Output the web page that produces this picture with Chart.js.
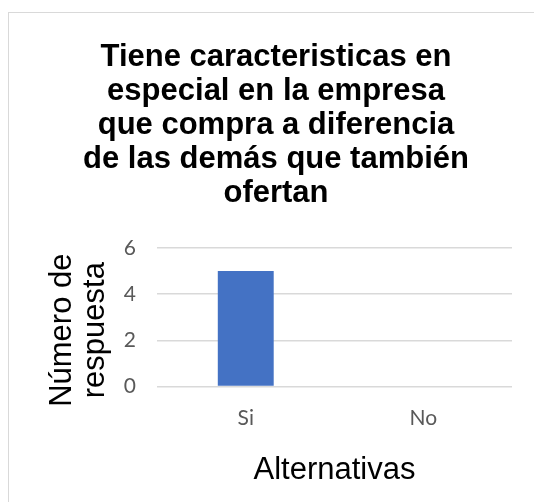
<!DOCTYPE html>
<html>
<head>
<meta charset="utf-8">
<script src="https://cdn.jsdelivr.net/npm/chart.js@4.4.1/dist/chart.umd.min.js"></script>
<style>
  html, body { margin: 0; padding: 0; background: #fff; overflow: hidden; }
  #wrap { position: relative; width: 534px; height: 502px; }
  #frame {
    position: absolute; left: 8px; top: 12px; width: 560px; height: 520px;
    border: 1px solid #d9d9d9; box-sizing: border-box;
  }
  #chart { position: absolute; left: 0; top: 0; }
</style>
</head>
<body>
<div id="wrap">
  <div id="frame"></div>
  <canvas id="chart" width="534" height="502"></canvas>
</div>
<script>
// ===== SURVEY BAR CHART =====
const categories = ['Si', 'No'];
const responses = [5, 0];
const yTicks = [0, 2, 4, 6];

const chartTitle = [
  'Tiene caracteristicas en',
  'especial en la empresa',
  'que compra a diferencia',
  'de las demás que también',
  'ofertan',
];
// trailing spaces nudge the rotated label a little below the axis middle
const yTitle = ['Número de   ', 'respuesta   '];
const xTitle = 'Alternativas';

const TEXT_FONT = "'Liberation Sans', Arial, sans-serif";
const TICK_FONT = "Lato, 'Open Sans', sans-serif";
const TICK_COLOR = '#595959';
const GRID_COLOR = '#d9d9d9';

const canvas = document.getElementById('chart');

new Chart(canvas.getContext('2d'), {
  type: 'bar',
  data: {
    labels: categories,
    datasets: [{
      data: responses,
      backgroundColor: '#4472c4',
      borderWidth: 0,
      categoryPercentage: 1,
      barPercentage: 0.315,
    }],
  },
  options: {
    responsive: false,
    animation: false,
    layout: { padding: { left: 40, right: 22, top: 0, bottom: 0 } },
    plugins: {
      legend: { display: false },
      tooltip: { enabled: false },
      title: {
        display: true,
        text: chartTitle,
        color: '#000',
        font: { family: TEXT_FONT, size: 31, weight: 'bold', lineHeight: 1.09 },
        padding: { top: 41, bottom: 38 },
      },
    },
    scales: {
      x: {
        grid: { display: false, drawTicks: false },
        border: { display: false },
        ticks: {
          color: TICK_COLOR,
          font: { family: TICK_FONT, size: 21 },
          padding: 19,
        },
        title: {
          display: true,
          text: xTitle,
          color: '#000',
          font: { family: TEXT_FONT, size: 31, lineHeight: 1.2 },
          padding: { top: 2, bottom: 13 },
        },
      },
      y: {
        min: 0,
        max: 6,
        afterBuildTicks: (scale) => {
          scale.ticks = yTicks.map(v => ({ value: v }));
        },
        afterFit: (scale) => {
          scale.width = 117;
        },
        grid: { color: GRID_COLOR, lineWidth: 1.5, drawTicks: false },
        border: { display: false },
        ticks: {
          color: TICK_COLOR,
          font: { family: TICK_FONT, size: 21 },
          padding: 21,
        },
        title: {
          display: true,
          text: yTitle,
          color: '#000',
          font: { family: TEXT_FONT, size: 31, lineHeight: 1.065 },
          padding: { top: 6, bottom: 12 },
        },
      },
    },
  },
});
</script>
</body>
</html>
